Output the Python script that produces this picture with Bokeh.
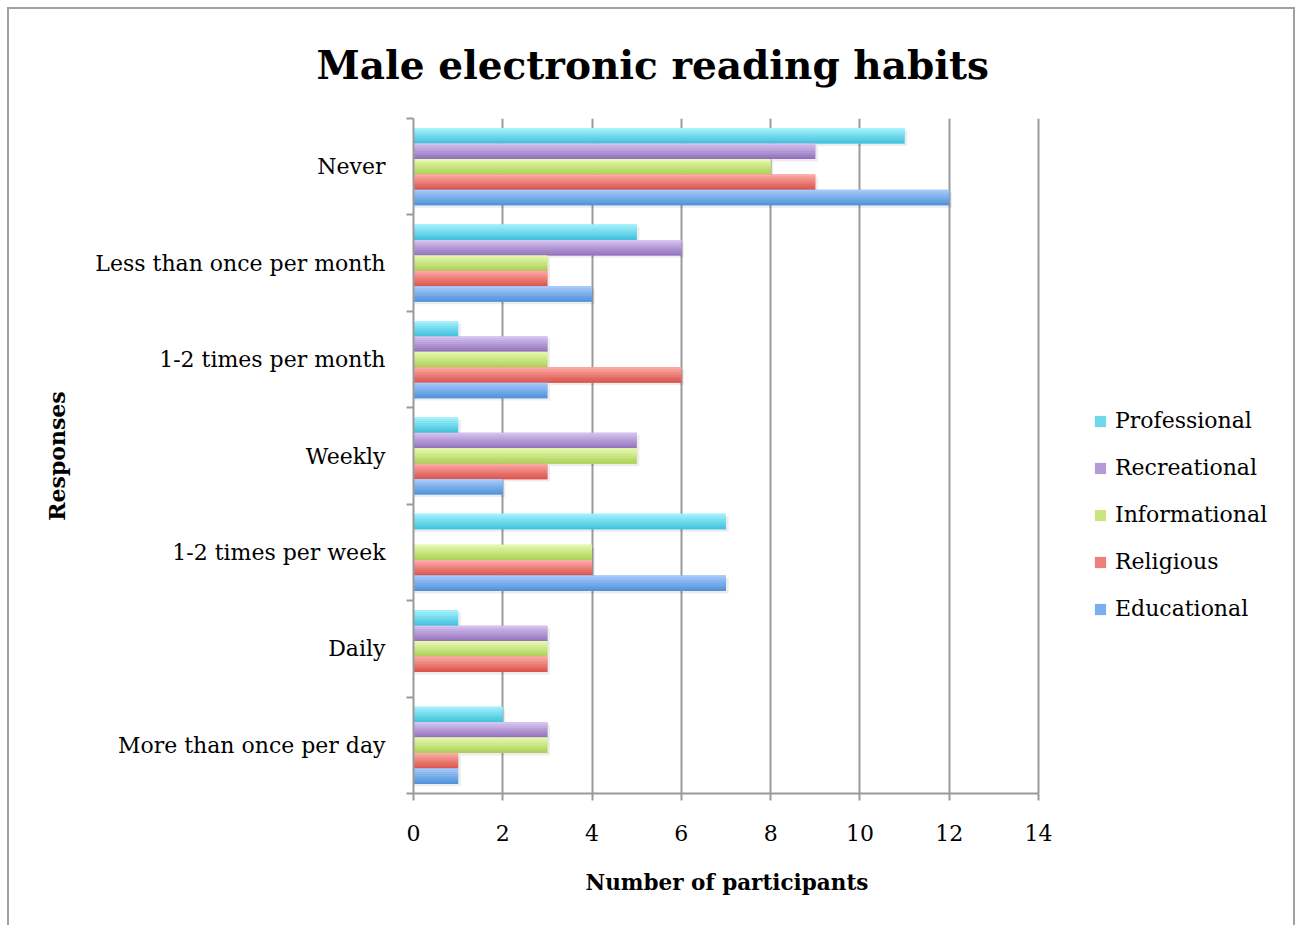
from bokeh.plotting import figure
from bokeh.models import ColumnDataSource, FixedTicker, Legend, LegendItem, Title
from bokeh.embed import file_html
from bokeh.resources import INLINE

categories = ["Never", "Less than once per month", "1-2 times per month", "Weekly",
              "1-2 times per week", "Daily", "More than once per day"]
series_names = ["Professional", "Recreational", "Informational", "Religious", "Educational"]
professional = [11, 5, 1, 1, 7, 1, 2]
recreational = [9, 6, 3, 5, 0, 3, 3]
informational = [8, 3, 3, 5, 4, 3, 3]
religious = [9, 3, 6, 3, 4, 3, 1]
educational = [12, 4, 3, 2, 7, 0, 1]
x_ticks = [0, 2, 4, 6, 8, 10, 12, 14]

series_values = [professional, recreational, informational, religious, educational]
top_colors = ["#a3f2fc", "#d6c3f0", "#e6faad", "#fcaaa6", "#a6cafc"]
bottom_colors = ["#42c2dd", "#9572bd", "#aed15a", "#db564c", "#5293da"]
mid_colors = ["#6fd8ec", "#b49ad6", "#c8e582", "#ec7f78", "#7aaeec"]

FONT = "DejaVu Serif"
GRID = "#9a9a9a"

n_cat = len(categories)
n_ser = len(series_names)
group_span = 0.8
bar_h = group_span / n_ser

# layout (pixels)
W, H = 1288, 918
LEFT, TOP, BOTTOM = 404, 109, 134
axis_px = 625.0                       # width that the 0..14 axis occupies
frame_w = W - LEFT
x_max = x_ticks[-1]
x_end = x_max * frame_w / axis_px     # extra room to the right holds the legend


def hex2rgb(h):
    h = h.lstrip("#")
    return tuple(int(h[i:i + 2], 16) for i in (0, 2, 4))


def mix(c1, c2, t):
    a, b = hex2rgb(c1), hex2rgb(c2)
    return "#%02x%02x%02x" % tuple(int(round(a[i] + (b[i] - a[i]) * t)) for i in range(3))


p = figure(width=W, height=H, x_range=(0, x_end), y_range=(0, n_cat),
           output_backend="svg", toolbar_location=None,
           min_border_left=LEFT, min_border_right=0,
           min_border_top=TOP, min_border_bottom=BOTTOM)
p.styles = {"border-left": "2px solid #a0a0a0", "border-top": "2px solid #a0a0a0",
            "border-right": "2px solid #a0a0a0", "margin-left": "7px", "margin-top": "7px"}
p.outline_line_color = None
p.background_fill_color = "white"
p.border_fill_color = "white"

# title
p.title.text = "Male electronic reading habits"
p.title.text_font = FONT
p.title.text_font_style = "bold"
p.title.text_font_size = "39px"
p.title.text_color = "black"
p.title.align = "left"
p.title.offset = -97
p.title.vertical_align = "middle"
p.title.standoff = 60

# grid
p.xgrid.ticker = FixedTicker(ticks=x_ticks)
p.xgrid.grid_line_color = GRID
p.xgrid.grid_line_width = 2
p.ygrid.grid_line_color = None

centers = [n_cat - i - 0.5 for i in range(n_cat)]
n_strips = 8
legend_items = []
for s in range(n_ser):
    offset = group_span / 2 - (s + 0.5) * bar_h
    ys = [c + offset for c in centers]
    vals = series_values[s]
    # soft shadow
    sh = ColumnDataSource(dict(y=[y - 0.025 for y in ys], right=[v + 0.06 if v > 0 else 0 for v in vals]))
    p.hbar(y="y", left=0, right="right", height=bar_h, source=sh,
           fill_color="black", fill_alpha=0.07, line_color=None)
for s in range(n_ser):
    offset = group_span / 2 - (s + 0.5) * bar_h
    ys = [c + offset for c in centers]
    vals = series_values[s]
    src = ColumnDataSource(dict(y=ys, right=vals, cat=categories))
    base = p.hbar(y="y", left=0, right="right", height=bar_h, source=src,
                  fill_color=mid_colors[s], line_color=None)
    legend_items.append(LegendItem(label=series_names[s], renderers=[base]))
    sh_ = bar_h / n_strips
    for k in range(n_strips):
        t = k / (n_strips - 1)
        col = mix(top_colors[s], bottom_colors[s], t)
        sy = [y + bar_h / 2 - (k + 0.5) * sh_ for y in ys]
        ssrc = ColumnDataSource(dict(y=sy, right=vals))
        p.hbar(y="y", left=0, right="right", height=sh_ * 1.02, source=ssrc,
               fill_color=col, line_color=None)

# axes
xa = p.xaxis[0]
xa.ticker = FixedTicker(ticks=x_ticks)
xa.bounds = (0, x_max)
xa.axis_line_color = GRID
xa.axis_line_width = 2
xa.major_tick_line_color = GRID
xa.major_tick_line_width = 2
xa.major_tick_in = 0
xa.major_tick_out = 7
xa.minor_tick_line_color = None
xa.major_label_text_font = FONT
xa.major_label_text_font_size = "22px"
xa.major_label_text_color = "black"
xa.major_label_standoff = 24

# x-axis title centred under the 0..14 axis (the frame extends further right)
xtitle = Title(text="Number of participants", text_font=FONT, text_font_style="bold",
               text_font_size="21.5px", text_color="black", align="left",
               offset=172, vertical_align="middle", standoff=51)
p.add_layout(xtitle, "below")

ya = p.yaxis[0]
ya.ticker = FixedTicker(ticks=centers, minor_ticks=list(range(n_cat + 1)))
ya.major_label_overrides = {c: categories[i] for i, c in enumerate(centers)}
ya.axis_line_color = GRID
ya.axis_line_width = 2
ya.major_tick_line_color = None
ya.major_tick_in = 0
ya.major_tick_out = 0
ya.minor_tick_line_color = GRID
ya.minor_tick_line_width = 2
ya.minor_tick_in = 0
ya.minor_tick_out = 7
ya.major_label_text_font = FONT
ya.major_label_text_font_size = "22px"
ya.major_label_text_color = "black"
ya.major_label_standoff = 21
ya.axis_label = "Responses"
ya.axis_label_text_font = FONT
ya.axis_label_text_font_style = "bold"
ya.axis_label_text_font_size = "22px"
ya.axis_label_text_color = "black"
ya.axis_label_standoff = 22

legend = Legend(items=legend_items, location=(680, 172), orientation="vertical",
                label_text_font=FONT, label_text_font_size="22px",
                label_text_color="black", glyph_width=14, glyph_height=14,
                label_height=24, spacing=22, padding=0, margin=0,
                label_standoff=8, border_line_color=None,
                background_fill_alpha=0)
p.add_layout(legend, "center")

open("out.html", "w").write(file_html(p, INLINE))
